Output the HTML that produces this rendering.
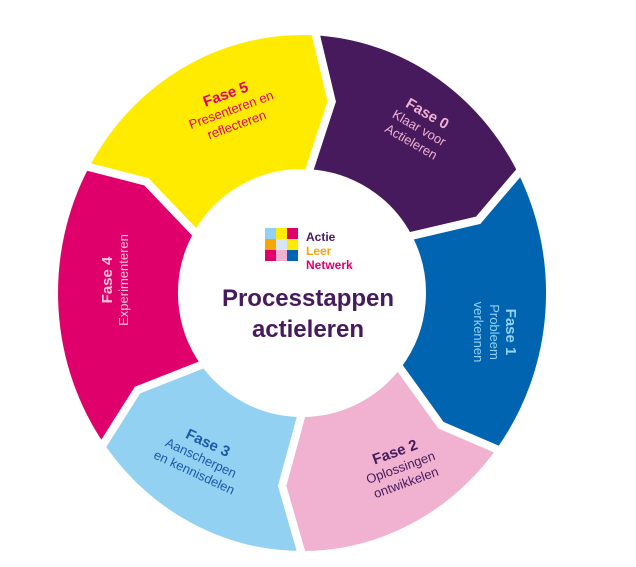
<!DOCTYPE html>
<html><head><meta charset="utf-8"><style>
html,body{margin:0;padding:0;background:#fff;width:636px;height:567px;overflow:hidden}
svg{display:block}
text{font-family:"Liberation Sans",sans-serif}
</style></head><body>
<svg id="s" width="636" height="567" viewBox="0 0 636 567" xmlns="http://www.w3.org/2000/svg">
<g id="segs"></g>
<circle cx="304" cy="291" r="120" fill="#fff"/>
<g transform="translate(265,228)">
<rect x="0" y="0" width="11" height="11" fill="#93d1f2"/>
<rect x="11" y="0" width="11" height="11" fill="#ffeb00"/>
<rect x="22" y="0" width="11" height="11" fill="#e0006c"/>
<rect x="0" y="11" width="11" height="11" fill="#f7a600"/>
<rect x="11" y="11" width="11" height="11" fill="#d8e6f2"/>
<rect x="22" y="11" width="11" height="11" fill="#ffeb00"/>
<rect x="0" y="22" width="11" height="11" fill="#e0006c"/>
<rect x="11" y="22" width="11" height="11" fill="#f0b2d0"/>
<rect x="22" y="22" width="11" height="11" fill="#0064b0"/>
</g>
<text x="306" y="241" font-size="12" font-weight="bold" fill="#461a5c">Actie</text>
<text x="306" y="255" font-size="12" font-weight="bold" fill="#f7a600">Leer</text>
<text x="306" y="269" font-size="12" font-weight="bold" fill="#e0006c">Netwerk</text>
<text x="308" y="306" font-size="24" font-weight="bold" fill="#461a5c" text-anchor="middle">Processtappen</text>
<text x="308" y="337" font-size="24" font-weight="bold" fill="#461a5c" text-anchor="middle">actieleren</text>

<g transform="translate(418,130) rotate(30)" text-anchor="middle" fill="#f0b2d0">
<text y="-14" font-size="15" font-weight="bold">Fase 0</text>
<text y="2" font-size="13">Klaar voor</text>
<text y="18" font-size="13">Actieleren</text>
</g>
<g transform="translate(492,332) rotate(90)" text-anchor="middle" fill="#93d1f2">
<text y="-14" font-size="15" font-weight="bold">Fase 1</text>
<text y="2" font-size="13">Probleem</text>
<text y="18" font-size="13">verkennen</text>
</g>
<g transform="translate(400,466) rotate(-20)" text-anchor="middle" fill="#461a5c">
<text y="-10" font-size="15" font-weight="bold">Fase 2</text>
<text y="6" font-size="13">Oplossingen</text>
<text y="22" font-size="13">ontwikkelen</text>
</g>
<g transform="translate(200,460) rotate(25)" text-anchor="middle" fill="#1a5aa8">
<text y="-14" font-size="15" font-weight="bold">Fase 3</text>
<text y="2" font-size="13">Aanscherpen</text>
<text y="18" font-size="13">en kennisdelen</text>
</g>
<g transform="translate(118,300) rotate(-90)" text-anchor="middle" fill="#f6c8dc">
<text x="20" y="-6" font-size="15" font-weight="bold">Fase 4</text>
<text x="20" y="10" font-size="13">Experimenteren</text>
</g>
<g transform="translate(232,112) rotate(-20)" text-anchor="middle" fill="#e0006c">
<text y="-14" font-size="15" font-weight="bold">Fase 5</text>
<text y="2" font-size="13">Presenteren en</text>
<text y="18" font-size="13">reflecteren</text>
</g>
</svg>
<script>
(function(){
var cx=302,cy=293,Rx=248,Ry=262,Ri=120,Rm=190,off=6;
var b=[-87,-28,37,90,144,209,273];
var cols=["#461a5c","#0064b0","#f0b2d0","#93d1f2","#e0006c","#ffeb00"];
function P(a,rx,ry){var t=a*Math.PI/180;return (cx+rx*Math.cos(t)).toFixed(1)+","+(cy+ry*Math.sin(t)).toFixed(1);}
var g=document.getElementById("segs"),h="";
for(var i=0;i<6;i++){
var a0=b[i],a1=b[i+1];
var d="M"+P(a0,Rx,Ry)+" A"+Rx+","+Ry+" 0 0 1 "+P(a1,Rx,Ry)+" L"+P(a1+off,Rm,Rm+4)+" L"+P(a1,Ri,Ri)+" A"+Ri+","+Ri+" 0 0 0 "+P(a0,Ri,Ri)+" L"+P(a0+off,Rm,Rm+4)+" Z";
h+='<path d="'+d+'" fill="'+cols[i]+'" stroke="#fff" stroke-width="8" stroke-linejoin="miter"/>';
}
g.innerHTML=h;
})();
</script>
</body></html>
